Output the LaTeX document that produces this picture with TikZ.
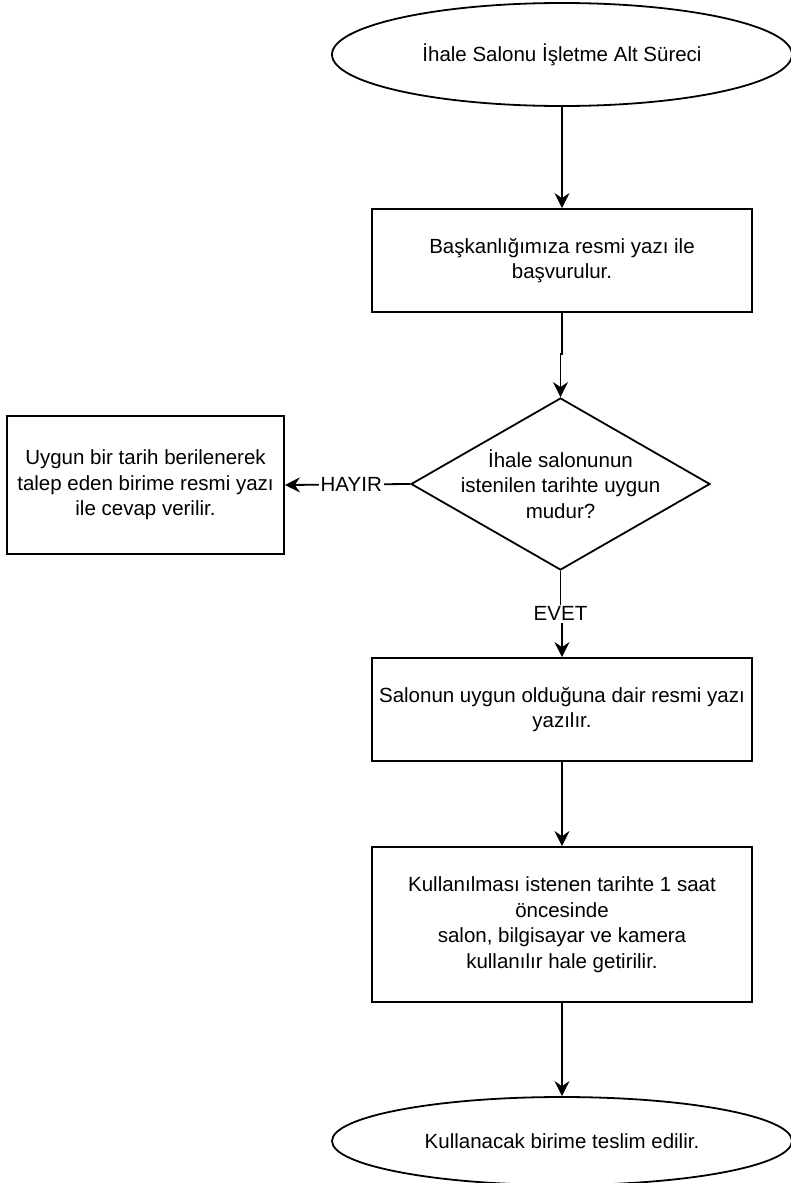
\documentclass[tikz,border=0pt]{standalone}
\usepackage{fontspec}
\setmainfont{Liberation Sans}
\usetikzlibrary{shapes.geometric,arrows.meta}

\begin{document}
\begin{tikzpicture}[x=1pt,y=-1pt,line width=1.8pt,>={Stealth[length=15pt,width=15pt,inset=5pt]},
  every node/.style={font=\fontsize{20.5}{25.5}\selectfont,align=center,inner sep=0pt},
  terminal/.style={ellipse,draw,minimum width=460pt},
  stepbox/.style={rectangle,draw,minimum width=380pt},
  yesno/.style={fill=white,inner sep=2pt}]
  \useasboundingbox (0,0) rectangle (790,1183);
  \node[terminal,minimum height=103pt] (start) at (562,54.5) {İhale Salonu İşletme Alt Süreci};
  \node[stepbox,minimum height=103pt] (apply) at (562,260.5) {Başkanlığımıza resmi yazı ile\\başvurulur.};
  \node[diamond,draw,minimum width=299pt,minimum height=172pt,
    label={[align=center]center:İhale salonunun\\istenilen tarihte uygun\\mudur?}] (check) at (560.5,484) {};
  \node[rectangle,draw,minimum width=277pt,minimum height=138pt] (other) at (145.5,485)
    {Uygun bir tarih berilenerek\\talep eden birime resmi yazı\\ile cevap verilir.};
  \node[stepbox,minimum height=103pt] (letter) at (562,709.5) {Salonun uygun olduğuna dair resmi yazı\\yazılır.};
  \node[stepbox,minimum height=155pt] (ready) at (562,924.5)
    {Kullanılması istenen tarihte 1 saat\\öncesinde\\salon, bilgisayar ve kamera\\kullanılır hale getirilir.};
  \node[terminal,minimum height=88pt] (deliver) at (562,1141) {Kullanacak birime teslim edilir.};
  \draw[->] (start) -- (apply);
  \draw[->] (apply.south) -- ++(0,41) -| (check.north);
  \draw[->] (check.west) -- node[yesno,pos=.47] {HAYIR} (other.east);
  \draw[->] (check.south) -- ++(0,43) node[yesno] {EVET} -| (letter.north);
  \draw[->] (letter) -- (ready);
  \draw[->] (ready) -- (deliver);
\end{tikzpicture}
\end{document}
